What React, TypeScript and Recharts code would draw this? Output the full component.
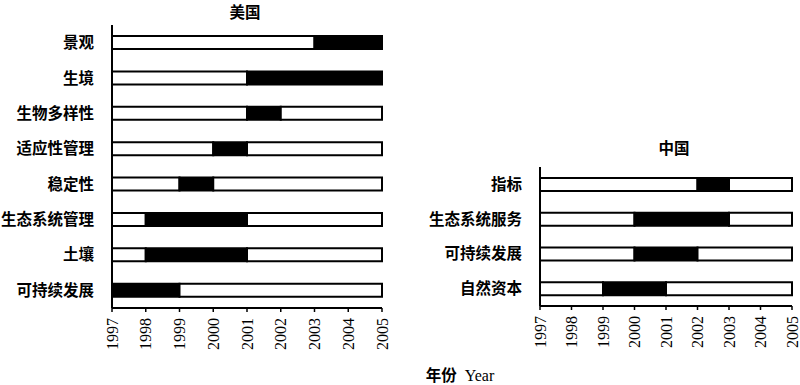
import { BarChart, Bar, XAxis, YAxis } from "recharts";

const START_YEAR = 1997;
const END_YEAR = 2005;
const YEARS = [1997, 1998, 1999, 2000, 2001, 2002, 2003, 2004, 2005];

const usTopics = ["景观", "生境", "生物多样性", "适应性管理", "稳定性", "生态系统管理", "土壤", "可持续发展"];
const usFrom = [2003, 2001, 2001, 2000, 1999, 1998, 1998, 1997];
const usTo = [2005, 2005, 2002, 2001, 2000, 2001, 2001, 1999];

const cnTopics = ["指标", "生态系统服务", "可持续发展", "自然资本"];
const cnFrom = [2002, 2000, 2000, 1999];
const cnTo = [2003, 2003, 2002, 2001];

const build = (names: string[], from: number[], to: number[]) =>
  names.map((name, i) => ({
    name,
    pre: from[i] - START_YEAR,
    hot: to[i] - from[i],
    post: END_YEAR - to[i],
  }));

const usData = build(usTopics, usFrom, usTo);
const cnData = build(cnTopics, cnFrom, cnTo);
const ticks = YEARS.map((y) => y - START_YEAR);

const YearTick = ({ x, y, payload }: any) => (
  <text
    x={x}
    y={y}
    transform={`rotate(-90 ${x} ${y})`}
    textAnchor="end"
    dominantBaseline="central"
    fontFamily="'Liberation Serif', serif"
    fontSize={16}
    fill="#000"
  >
    {START_YEAR + payload.value}
  </text>
);

const Panel = ({ data, width, height, yWidth, margin }: any) => (
  <BarChart layout="vertical" width={width} height={height} data={data} margin={margin}>
    <XAxis
      type="number"
      domain={[0, END_YEAR - START_YEAR]}
      ticks={ticks}
      interval={0}
      height={50}
      axisLine={{ stroke: "#000", strokeWidth: 2 }}
      tickLine={{ stroke: "#000", strokeWidth: 1.5 }}
      tickSize={4}
      tickMargin={6}
      tick={<YearTick />}
    />
    <YAxis
      type="category"
      dataKey="name"
      width={yWidth}
      axisLine={{ stroke: "#000", strokeWidth: 2 }}
      tickLine={false}
      tickSize={0}
      tickMargin={18}
      tick={{ fill: "#000", fontSize: 15.5, fontWeight: 700, fontFamily: "'Noto Sans CJK SC', sans-serif" }}
    />
    <Bar dataKey="pre" stackId="a" fill="#fff" stroke="#000" strokeWidth={2} barSize={13} isAnimationActive={false} />
    <Bar dataKey="hot" stackId="a" fill="#000" stroke="#000" strokeWidth={2} barSize={13} isAnimationActive={false} />
    <Bar dataKey="post" stackId="a" fill="#fff" stroke="#000" strokeWidth={2} barSize={13} isAnimationActive={false} />
  </BarChart>
);

const titleStyle: any = {
  position: "absolute",
  fontFamily: "'Noto Sans CJK SC', sans-serif",
  fontWeight: 700,
  fontSize: 15.5,
  lineHeight: "16px",
  transform: "translate(-50%, -50%)",
  whiteSpace: "nowrap",
};

export default function App() {
  return (
    <div style={{ position: "absolute", left: 0, top: 0, width: 800, height: 385, background: "#fff" }}>
      <div style={{ position: "absolute", left: 0, top: 0 }}>
        <Panel data={usData} width={400} height={385} yWidth={112} margin={{ top: 25, right: 18, bottom: 27, left: 0 }} />
      </div>
      <div style={{ position: "absolute", left: 400, top: 0 }}>
        <Panel data={cnData} width={400} height={385} yWidth={140} margin={{ top: 167, right: 8, bottom: 29, left: 0 }} />
      </div>
      <div style={{ ...titleStyle, left: 245, top: 11 }}>美国</div>
      <div style={{ ...titleStyle, left: 674, top: 147 }}>中国</div>
      <div style={{ ...titleStyle, left: 460, top: 375, fontWeight: 400 }}>
        <span style={{ fontWeight: 700 }}>年份</span>
        <span style={{ fontFamily: "'Liberation Serif', serif", fontSize: 16, marginLeft: 8 }}>Year</span>
      </div>
    </div>
  );
}
